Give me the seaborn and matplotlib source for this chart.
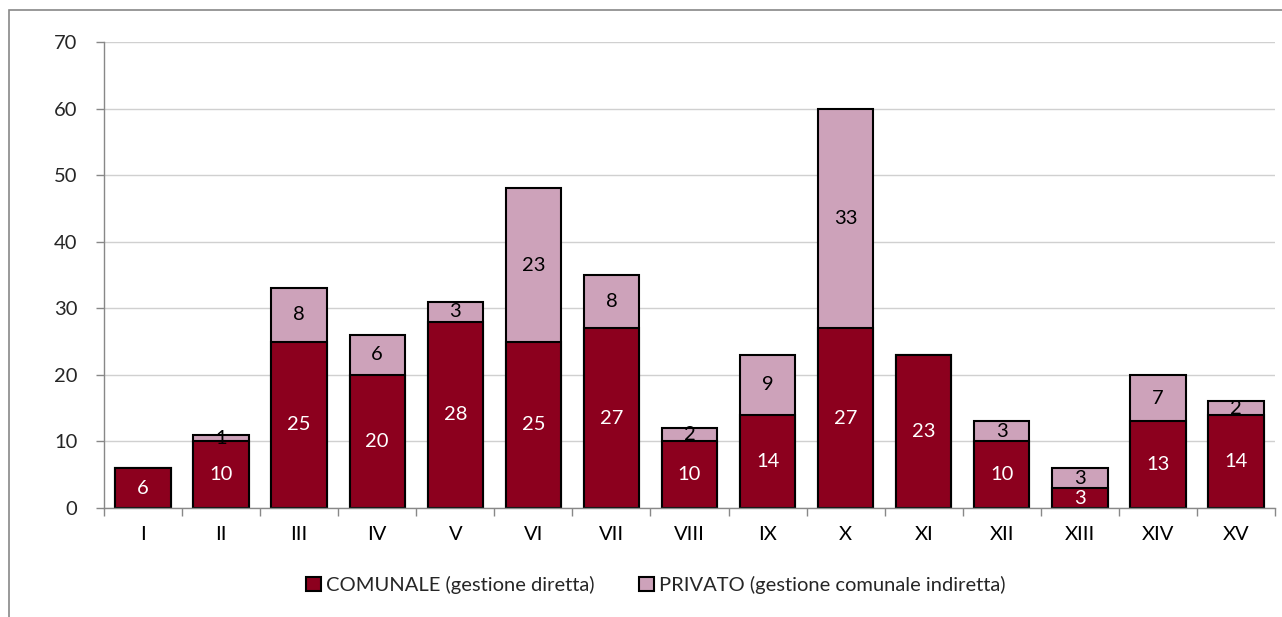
import matplotlib
matplotlib.use("Agg")
import matplotlib.pyplot as plt
import seaborn as sns
import pandas as pd
import numpy as np
from matplotlib.patches import Rectangle, Patch

categories = ["I", "II", "III", "IV", "V", "VI", "VII", "VIII", "IX", "X", "XI", "XII", "XIII", "XIV", "XV"]
comunale = [6, 10, 25, 20, 28, 25, 27, 10, 14, 27, 23, 10, 3, 13, 14]
privato = [0, 1, 8, 6, 3, 23, 8, 2, 9, 33, 0, 3, 3, 7, 2]
series_names = ["COMUNALE (gestione diretta)", "PRIVATO (gestione comunale indiretta)"]
y_ticks = [0, 10, 20, 30, 40, 50, 60, 70]

c_dark = "#8C001E"
c_pink = "#CDA2BA"
FS = 14.5

sns.set_theme(style="white")
plt.rcParams["font.family"] = ["Lato", "DejaVu Sans"]

df = pd.DataFrame({"cat": categories, "com": comunale, "pri": privato})
df["tot"] = df["com"] + df["pri"]

fig = plt.figure(figsize=(12.82, 6.17), dpi=100)
ax = fig.add_axes([104/1282, 1-508/617, (1275-104)/1282, (508-42)/617])

sns.barplot(data=df, x="cat", y="tot", color=c_pink, saturation=1, width=0.71,
            edgecolor="black", linewidth=1.5, ax=ax, order=categories)
sns.barplot(data=df, x="cat", y="com", color=c_dark, saturation=1, width=0.71,
            edgecolor="black", linewidth=1.5, ax=ax, order=categories)

for i, (c, p) in enumerate(zip(comunale, privato)):
    ax.text(i, c/2, str(c), ha="center", va="center", color="white", fontsize=FS)
    if p > 0:
        ax.text(i, c + p/2, str(p), ha="center", va="center", color="black", fontsize=FS)

ax.set_xlim(-0.5, len(categories)-0.5)
ax.set_ylim(0, 70)
ax.set_yticks(y_ticks)
ax.set_yticklabels([str(v) for v in y_ticks], fontsize=FS)
ax.set_xticks(range(len(categories)))
ax.set_xticklabels(categories, fontsize=FS)
ax.set_xticks(np.arange(-0.5, len(categories)), minor=True)
ax.tick_params(axis="x", which="major", length=0, pad=13, colors="black")
ax.tick_params(axis="x", which="minor", length=6, width=1, color="#888888", bottom=True)
ax.tick_params(axis="y", which="major", length=6, width=1, color="#888888", left=True, pad=13)
ax.set_xlabel("")
ax.set_ylabel("")
ax.yaxis.grid(True, color="#D0D0D0", linewidth=1)
ax.set_axisbelow(True)
for s in ["top", "right"]:
    ax.spines[s].set_visible(False)
for s in ["left", "bottom"]:
    ax.spines[s].set_color("#888888")
    ax.spines[s].set_linewidth(1)

handles = [Patch(facecolor=c_dark, edgecolor="black", linewidth=1.5),
           Patch(facecolor=c_pink, edgecolor="black", linewidth=1.5)]
fig.legend(handles, series_names, loc="center", bbox_to_anchor=(656/1282, 1-585/617),
           ncol=2, frameon=False, fontsize=FS, handlelength=0.75, handleheight=0.75,
           handletextpad=0.25, columnspacing=2.2)

fig.patches.append(Rectangle((9/1282, -0.1), 1.2, 1-10/617+0.1, transform=fig.transFigure,
                             fill=False, edgecolor="#888888", linewidth=1.2, zorder=-1))

fig.savefig("out.png", dpi=100)
